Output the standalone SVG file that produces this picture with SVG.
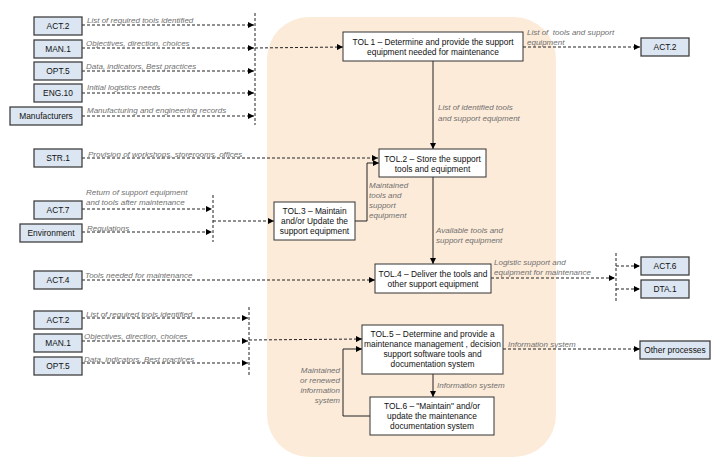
<svg xmlns="http://www.w3.org/2000/svg" width="720" height="475" viewBox="0 0 720 475">
<defs>
<marker id="ah" viewBox="0 0 10 10" refX="10" refY="5" markerWidth="6" markerHeight="6" orient="auto" markerUnits="userSpaceOnUse"><path d="M0,0L10,5L0,10z" fill="#000"/></marker>
<style>
.ext{fill:#dce6f2;stroke:#404040;stroke-width:1.3}
.pr{fill:#fff;stroke:#333;stroke-width:1}
.t{font-family:"Liberation Sans",Arial,sans-serif;font-size:8.4px;fill:#111;text-anchor:middle}
.l{font-family:"Liberation Sans",Arial,sans-serif;font-size:8px;font-style:italic;fill:#707070}
.d{fill:none;stroke:#222;stroke-width:1;stroke-dasharray:3,2}
.s{fill:none;stroke:#222;stroke-width:1}
.a{marker-end:url(#ah)}
</style>
</defs>
<rect width="720" height="475" fill="#fff"/>
<rect x="267" y="17" width="289" height="440" rx="42" fill="#fdebd9"/>
<g id="connectors">
<line class="d" x1="255" y1="13" x2="255" y2="125"/>
<line class="d a" x1="82" y1="25" x2="254" y2="25"/>
<line class="d a" x1="82" y1="48" x2="254" y2="48"/>
<line class="d a" x1="82" y1="71" x2="254" y2="71"/>
<line class="d a" x1="82" y1="93" x2="254" y2="93"/>
<line class="d a" x1="82" y1="116" x2="254" y2="116"/>
<line class="d a" x1="255" y1="48" x2="343" y2="47"/>
<line class="d a" x1="523" y1="47" x2="640" y2="47"/>
<line class="s a" x1="433" y1="61" x2="433" y2="149"/>
<line class="d a" x1="82" y1="158" x2="378" y2="158"/>
<line class="d" x1="213" y1="195" x2="213" y2="242"/>
<line class="d a" x1="82" y1="209" x2="212" y2="209"/>
<line class="d a" x1="82" y1="232" x2="212" y2="232"/>
<line class="d a" x1="213" y1="221" x2="274" y2="221"/>
<polyline class="s a" points="355,221 367,221 367,163 379,163"/>
<line class="s a" x1="433" y1="177" x2="433" y2="264"/>
<line class="d a" x1="82" y1="280" x2="375" y2="280"/>
<line class="d a" x1="491" y1="278" x2="615" y2="278"/>
<line class="d" x1="616" y1="253" x2="616" y2="301"/>
<line class="d a" x1="616" y1="266" x2="640" y2="266"/>
<line class="d a" x1="616" y1="289" x2="640" y2="289"/>
<line class="d" x1="249" y1="307" x2="249" y2="375"/>
<line class="d a" x1="82" y1="318" x2="248" y2="318"/>
<line class="d a" x1="82" y1="341" x2="248" y2="341"/>
<line class="d a" x1="82" y1="363" x2="248" y2="363"/>
<line class="d a" x1="249" y1="340" x2="362" y2="339"/>
<polyline class="s a" points="370,416 343,416 343,349 362,349"/>
<line class="s a" x1="433" y1="374" x2="433" y2="397"/>
<line class="d a" x1="503" y1="349" x2="640" y2="349"/>
</g>
<g id="labels">
<text class="l" x="87" y="23">List of required tools identified</text>
<text class="l" x="86" y="46">Objectives, direction, choices</text>
<text class="l" x="86" y="69">Data, indicators, Best practices</text>
<text class="l" x="87" y="90">Initial logistics needs</text>
<text class="l" x="87" y="113">Manufacturing and engineering records</text>
<text class="l" x="527" y="35" xml:space="preserve">List of  tools and support</text>
<text class="l" x="527" y="45">equipment</text>
<text class="l" x="438" y="110">List of identified tools</text>
<text class="l" x="438" y="121">and support equipment</text>
<text class="l" x="88" y="157">Provision of workshops, storerooms, offices</text>
<text class="l" x="86" y="195">Return of support equipment</text>
<text class="l" x="86" y="205">and tools after maintenance</text>
<text class="l" x="87" y="231">Regulations</text>
<text class="l" x="369" y="188">Maintained</text>
<text class="l" x="369" y="198">tools and</text>
<text class="l" x="369" y="208">support</text>
<text class="l" x="369" y="218">equipment</text>
<text class="l" x="436" y="233">Available tools and</text>
<text class="l" x="436" y="243">support equipment</text>
<text class="l" x="85" y="278">Tools needed for maintenance</text>
<text class="l" x="494" y="265">Logistic support and</text>
<text class="l" x="494" y="275">equipment for maintenance</text>
<text class="l" x="86" y="317">List of required tools identified</text>
<text class="l" x="84" y="339">Objectives, direction, choices</text>
<text class="l" x="84" y="362">Data, indicators, Best practices</text>
<text class="l" x="508" y="347">Information system</text>
<text class="l" x="437" y="388">Information system</text>
<g text-anchor="end"><text class="l" x="340" y="373">Maintained</text>
<text class="l" x="340" y="383">or renewed</text>
<text class="l" x="340" y="393">information</text>
<text class="l" x="340" y="403">system</text></g>
</g>
<g id="ext-act2a"><rect class="ext" x="34" y="17" width="48" height="18"/><text class="t" x="58" y="29">ACT.2</text></g>
<g id="ext-man1a"><rect class="ext" x="34" y="40" width="48" height="18"/><text class="t" x="58" y="52">MAN.1</text></g>
<g id="ext-opt5a"><rect class="ext" x="34" y="62" width="48" height="18"/><text class="t" x="58" y="74">OPT.5</text></g>
<g id="ext-eng10"><rect class="ext" x="34" y="84" width="48" height="18"/><text class="t" x="58" y="96">ENG.10</text></g>
<g id="ext-manuf"><rect class="ext" x="10" y="107" width="72" height="18"/><text class="t" x="46" y="119">Manufacturers</text></g>
<g id="ext-str1"><rect class="ext" x="34" y="149" width="48" height="18"/><text class="t" x="58" y="161">STR.1</text></g>
<g id="ext-act7"><rect class="ext" x="34" y="201" width="48" height="18"/><text class="t" x="58" y="213">ACT.7</text></g>
<g id="ext-env"><rect class="ext" x="20" y="224" width="62" height="18"/><text class="t" x="51" y="236">Environment</text></g>
<g id="ext-act4"><rect class="ext" x="34" y="271" width="48" height="18"/><text class="t" x="58" y="283">ACT.4</text></g>
<g id="ext-act2b"><rect class="ext" x="34" y="311" width="48" height="18"/><text class="t" x="58" y="323">ACT.2</text></g>
<g id="ext-man1b"><rect class="ext" x="34" y="334" width="48" height="18"/><text class="t" x="58" y="346">MAN.1</text></g>
<g id="ext-opt5b"><rect class="ext" x="34" y="357" width="48" height="18"/><text class="t" x="58" y="369">OPT.5</text></g>
<g id="ext-act2out"><rect class="ext" x="641" y="38" width="48" height="18"/><text class="t" x="665" y="50">ACT.2</text></g>
<g id="ext-act6"><rect class="ext" x="641" y="257" width="48" height="18"/><text class="t" x="665" y="269">ACT.6</text></g>
<g id="ext-dta1"><rect class="ext" x="641" y="280" width="48" height="18"/><text class="t" x="665" y="292">DTA.1</text></g>
<g id="ext-other"><rect class="ext" x="640" y="341" width="70" height="18"/><text class="t" x="675" y="353">Other processes</text></g>
<g id="tol1"><rect class="pr" x="343" y="32" width="180" height="29"/><text class="t" x="433" y="45">TOL 1 – Determine and provide the support</text><text class="t" x="433" y="55">equipment needed for maintenance</text></g>
<g id="tol2"><rect class="pr" x="379" y="149" width="107" height="28"/><text class="t" x="432.5" y="162">TOL.2 – Store the support</text><text class="t" x="432.5" y="172">tools and equipment</text></g>
<g id="tol3"><rect class="pr" x="274" y="202" width="81" height="38"/><text class="t" x="314.5" y="214">TOL.3 – Maintain</text><text class="t" x="314.5" y="224">and/or Update the</text><text class="t" x="314.5" y="234">support equipment</text></g>
<g id="tol4"><rect class="pr" x="375" y="264" width="116" height="29"/><text class="t" x="433" y="277">TOL.4 – Deliver the tools and</text><text class="t" x="433" y="287">other support equipment</text></g>
<g id="tol5"><rect class="pr" x="362" y="325" width="141" height="49"/><text class="t" x="432.5" y="337">TOL.5 – Determine and provide a</text><text class="t" x="432.5" y="347">maintenance management , decision</text><text class="t" x="432.5" y="357">support software tools and</text><text class="t" x="432.5" y="367">documentation system</text></g>
<g id="tol6"><rect class="pr" x="370" y="397" width="124" height="38"/><text class="t" x="432" y="409">TOL.6 – "Maintain" and/or</text><text class="t" x="432" y="419">update the maintenance</text><text class="t" x="432" y="429">documentation system</text></g>
</svg>
